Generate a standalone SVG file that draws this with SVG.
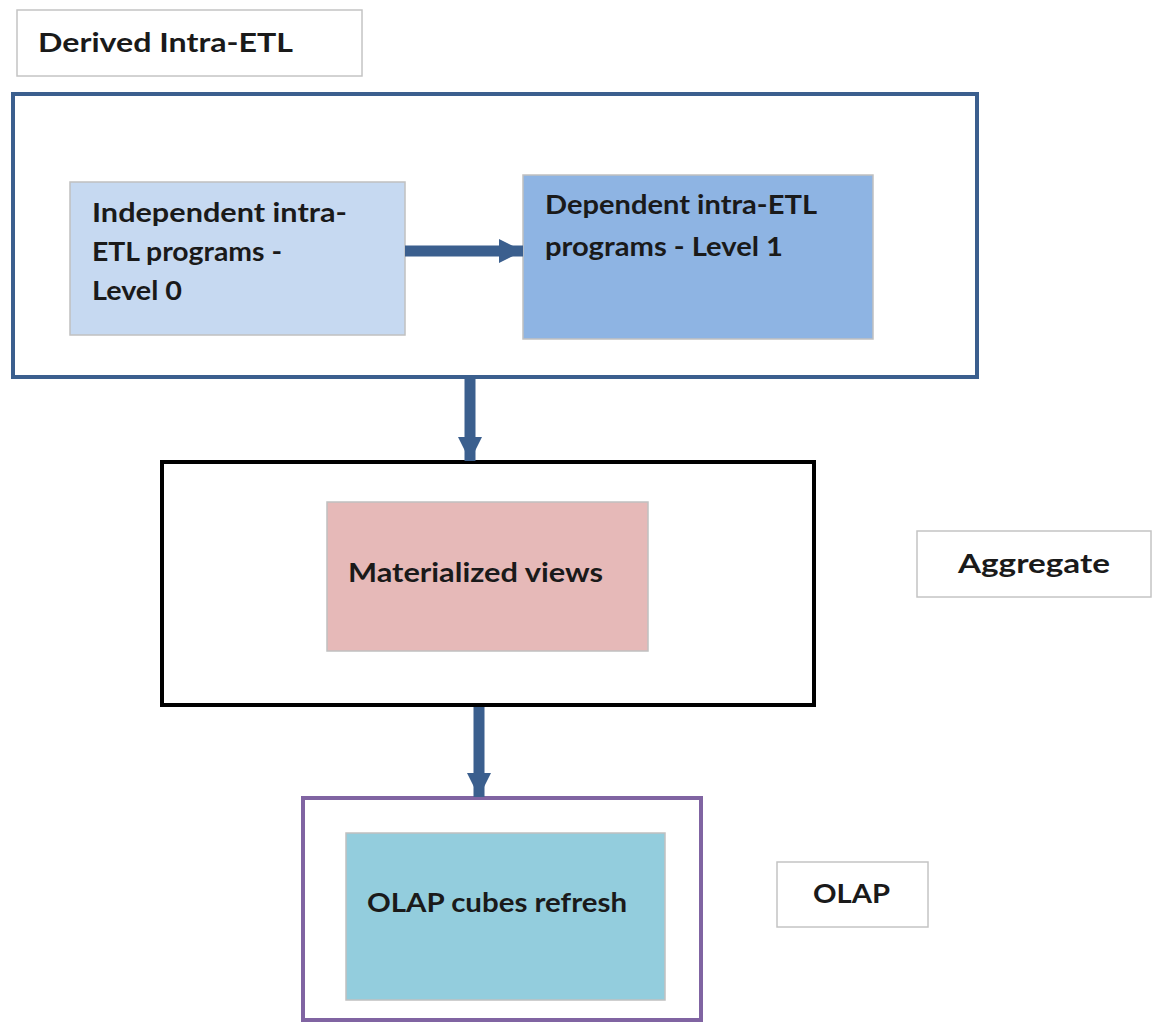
<svg xmlns="http://www.w3.org/2000/svg" width="1161" height="1023" viewBox="0 0 1161 1023">
<defs>
<style>
text{font-family:Lato,"Liberation Sans",sans-serif;font-weight:bold;font-size:26px;fill:#1a1a1a}
.lbl{fill:#fff;stroke:#c4c4c4;stroke-width:1.5}
.inner{stroke:#c0c0c0;stroke-width:1.5}
.conn{stroke:#3b5f8e;stroke-width:11;fill:none}
</style>
<marker id="ah" viewBox="0 0 10 10" refX="10" refY="5" markerWidth="2.2" markerHeight="2.2" orient="auto" markerUnits="strokeWidth">
<path d="M0,0 L10,5 L0,10 z" fill="#3b5f8e"/>
</marker>
</defs>
<rect width="1161" height="1023" fill="#fff"/>

<g id="label-derived">
<rect class="lbl" x="17" y="10" width="345" height="66"/>
<text x="38" y="52" textLength="255" lengthAdjust="spacingAndGlyphs">Derived Intra-ETL</text>
</g>

<g id="group-derived">
<rect x="13" y="94" width="964" height="283" fill="#fff" stroke="#3b5f8e" stroke-width="4"/>
</g>

<g id="node-independent">
<rect class="inner" x="70" y="182" width="335" height="153" fill="#c6d9f1"/>
<text x="92" y="222" textLength="255" lengthAdjust="spacingAndGlyphs">Independent intra-</text>
<text x="92" y="261" textLength="190" lengthAdjust="spacingAndGlyphs">ETL programs -</text>
<text x="92" y="300" textLength="90" lengthAdjust="spacingAndGlyphs">Level 0</text>
</g>

<g id="node-dependent">
<rect class="inner" x="523" y="175" width="350" height="164" fill="#8eb4e3"/>
<text x="545" y="214" textLength="272" lengthAdjust="spacingAndGlyphs">Dependent intra-ETL</text>
<text x="545" y="256" textLength="238" lengthAdjust="spacingAndGlyphs">programs - Level 1</text>
</g>

<g id="group-aggregate">
<rect x="162" y="462" width="652" height="243" fill="#fff" stroke="#000" stroke-width="4"/>
</g>

<g id="node-materialized">
<rect class="inner" x="327" y="502" width="321" height="149" fill="#e6b9b8"/>
<text x="348" y="582" textLength="255" lengthAdjust="spacingAndGlyphs">Materialized views</text>
</g>

<g id="label-aggregate">
<rect class="lbl" x="917" y="531" width="234" height="66"/>
<text x="958" y="573" textLength="152" lengthAdjust="spacingAndGlyphs">Aggregate</text>
</g>

<g id="group-olap">
<rect x="303" y="798" width="398" height="222" fill="#fff" stroke="#8064a2" stroke-width="4"/>
</g>

<g id="node-olap-cubes">
<rect class="inner" x="346" y="833" width="319" height="167" fill="#93cddd"/>
<text x="367" y="912" textLength="260" lengthAdjust="spacingAndGlyphs">OLAP cubes refresh</text>
</g>

<g id="label-olap">
<rect class="lbl" x="777" y="862" width="151" height="65"/>
<text x="813" y="903" textLength="77" lengthAdjust="spacingAndGlyphs">OLAP</text>
</g>

<g id="connectors">
<line class="conn" x1="405" y1="251" x2="523" y2="251" marker-end="url(#ah)"/>
<line class="conn" x1="470" y1="378" x2="470" y2="461" stroke-width="10" marker-end="url(#ah)"/>
<line class="conn" x1="479" y1="707" x2="479" y2="797" stroke-width="10" marker-end="url(#ah)"/>
</g>
</svg>
